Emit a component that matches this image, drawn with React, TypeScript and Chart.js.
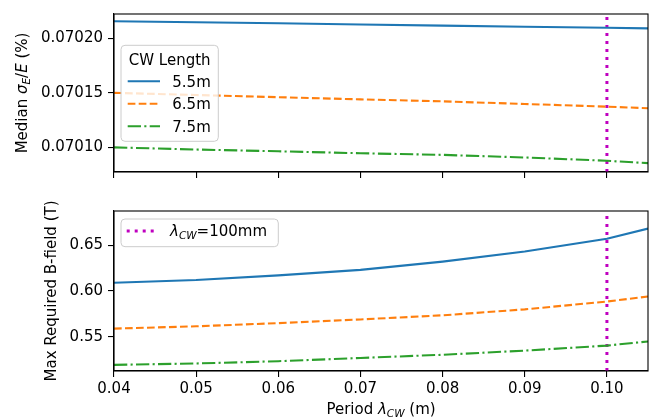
import React, { useEffect, useRef } from "react";
import { Chart, registerables } from "chart.js";
Chart.register(...registerables);

// ---- data ----
const periods = [0.04, 0.05, 0.06, 0.07, 0.08, 0.09, 0.1, 0.105];
const cwLengths = ["5.5m", "6.5m", "7.5m"];
const sigma55 = [0.0702157, 0.0702148, 0.0702138, 0.0702127, 0.0702116, 0.0702106, 0.0702097, 0.0702091];
const sigma65 = [0.07015, 0.070148, 0.070146, 0.070144, 0.0701422, 0.0701398, 0.0701373, 0.0701359];
const sigma75 = [0.0701, 0.070098, 0.0700964, 0.0700946, 0.0700931, 0.0700907, 0.0700877, 0.0700855];
const bfield55 = [0.609, 0.612, 0.617, 0.623, 0.632, 0.643, 0.657, 0.668];
const bfield65 = [0.559, 0.5615, 0.565, 0.569, 0.5735, 0.58, 0.5885, 0.594];
const bfield75 = [0.5195, 0.521, 0.5235, 0.527, 0.5305, 0.535, 0.5405, 0.545];
const markerPeriod = 0.1;
const xTicks = [0.04, 0.05, 0.06, 0.07, 0.08, 0.09, 0.1];
const sigmaTicks = [0.0701, 0.07015, 0.0702];
const bfieldTicks = [0.55, 0.6, 0.65];
const xRange = [0.04, 0.105];
const sigmaRange = [0.0700774, 0.0702223];
const bfieldRange = [0.5128, 0.6872];

const colors = ["#1f77b4", "#ff7f0e", "#2ca02c"];
const dashes = [[], [7.7, 3.3], [13.3, 3.3, 2.1, 3.3]];
const MAGENTA = "#bf00bf";
const FONT = "'DejaVu Sans'";
const FS = 15;

type Seg = { t: string; it?: boolean; sub?: boolean };

function segFont(s: Seg, size: number) {
  const sz = s.sub ? size * 0.7 : size;
  return `${s.it ? "italic " : ""}${sz}px ${FONT}`;
}
function drawRich(ctx: CanvasRenderingContext2D, segs: Seg[], x: number, y: number, size: number, align: string) {
  let w = 0;
  for (const s of segs) {
    ctx.font = segFont(s, size);
    w += ctx.measureText(s.t).width;
  }
  let cx = align === "center" ? x - w / 2 : x;
  ctx.textAlign = "left";
  ctx.textBaseline = "alphabetic";
  for (const s of segs) {
    ctx.font = segFont(s, size);
    ctx.fillText(s.t, cx, s.sub ? y + size * 0.2 : y);
    cx += ctx.measureText(s.t).width;
  }
}

const decorPlugin = {
  id: "decor",
  afterDatasetsDraw(chart: any, _args: any, opts: any) {
    const { ctx, chartArea: ca } = chart;
    ctx.save();
    ctx.strokeStyle = "#000";
    ctx.lineWidth = 1.1;
    ctx.setLineDash([]);
    ctx.strokeRect(ca.left, ca.top, ca.right - ca.left, ca.bottom - ca.top);
    ctx.fillStyle = "#000";
    ctx.save();
    ctx.translate(opts.yTitleX, (ca.top + ca.bottom) / 2);
    ctx.rotate(-Math.PI / 2);
    drawRich(ctx, opts.yTitle, 0, 5, FS, "center");
    ctx.restore();
    if (opts.xTitle) drawRich(ctx, opts.xTitle, (ca.left + ca.right) / 2, opts.xTitleY, FS, "center");
    const lg = opts.legend;
    if (lg) {
      const x = ca.left + lg.dx;
      const y = ca.top + lg.dy;
      ctx.beginPath();
      ctx.roundRect(x, y, lg.w, lg.h, 4);
      ctx.fillStyle = "rgba(255,255,255,0.8)";
      ctx.fill();
      ctx.strokeStyle = "#cccccc";
      ctx.lineWidth = 1;
      ctx.stroke();
      ctx.fillStyle = "#000";
      if (lg.title) {
        ctx.font = `${FS}px ${FONT}`;
        ctx.textAlign = "center";
        ctx.textBaseline = "alphabetic";
        ctx.fillText(lg.title, x + lg.w / 2, y + lg.titleY);
      }
      lg.items.forEach((idx: number, i: number) => {
        const ds = chart.data.datasets[idx];
        const ly = y + lg.rowY[i];
        ctx.beginPath();
        ctx.strokeStyle = ds.borderColor;
        ctx.lineWidth = ds.borderWidth;
        ctx.setLineDash(ds.borderDash || []);
        ctx.moveTo(x + lg.sx1, ly);
        ctx.lineTo(x + lg.sx2, ly);
        ctx.stroke();
        ctx.setLineDash([]);
        ctx.fillStyle = "#000";
        drawRich(ctx, lg.labels[i], x + lg.tx, ly + lg.baseOff, FS, "left");
      });
    }
    ctx.restore();
  },
};

function lineDs(label: string, ys: number[], i: number) {
  return {
    label,
    data: periods.map((p, k) => ({ x: p, y: ys[k] })),
    borderColor: colors[i],
    backgroundColor: colors[i],
    borderWidth: 2.1,
    borderDash: dashes[i],
    pointRadius: 0,
    tension: 0,
    fill: false,
    clip: 0,
  };
}
function markerDs(range: number[]) {
  return {
    label: "marker",
    data: [
      { x: markerPeriod, y: range[0] },
      { x: markerPeriod, y: range[1] },
    ],
    borderColor: MAGENTA,
    backgroundColor: MAGENTA,
    borderWidth: 3,
    borderDash: [3, 5],
    pointRadius: 0,
    fill: false,
    clip: 0,
  };
}

function makeOptions(cfg: any) {
  const tickFont = { family: FONT, size: FS };
  return {
    responsive: false,
    animation: false,
    layout: { padding: { left: 0, right: 4, top: cfg.padTop, bottom: 0 } },
    plugins: {
      legend: { display: false },
      tooltip: { enabled: false },
      decor: cfg.decor,
    },
    scales: {
      x: {
        type: "linear",
        min: xRange[0],
        max: xRange[1],
        afterBuildTicks: (s: any) => {
          s.ticks = xTicks.map((v) => ({ value: v }));
        },
        afterFit: (s: any) => {
          s.height = cfg.xHeight;
        },
        grid: { drawOnChartArea: false, drawTicks: true, tickLength: 6, color: "#000", lineWidth: 1.1 },
        border: { display: true, color: "#000", width: 1.1 },
        ticks: {
          display: cfg.xLabels,
          font: tickFont,
          color: "#000",
          padding: 3,
          maxRotation: 0,
          autoSkip: false,
          callback: (v: any) => Number(v).toFixed(2),
        },
      },
      y: {
        type: "linear",
        min: cfg.yRange[0],
        max: cfg.yRange[1],
        afterBuildTicks: (s: any) => {
          s.ticks = cfg.yTicks.map((v: number) => ({ value: v }));
        },
        afterFit: (s: any) => {
          s.width = 114;
        },
        grid: { drawOnChartArea: false, drawTicks: true, tickLength: 6, color: "#000", lineWidth: 1.1 },
        border: { display: true, color: "#000", width: 1.1 },
        ticks: {
          font: tickFont,
          color: "#000",
          padding: 5,
          autoSkip: false,
          callback: (v: any) => Number(v).toFixed(cfg.yDigits),
        },
      },
    },
  };
}

export default function App() {
  const topRef = useRef<HTMLCanvasElement | null>(null);
  const botRef = useRef<HTMLCanvasElement | null>(null);

  useEffect(() => {
    const top = new Chart(topRef.current as HTMLCanvasElement, {
      type: "line",
      data: {
        datasets: [
          lineDs(cwLengths[0], sigma55, 0),
          lineDs(cwLengths[1], sigma65, 1),
          lineDs(cwLengths[2], sigma75, 2),
          markerDs(sigmaRange),
        ],
      },
      options: makeOptions({
        padTop: 12,
        xHeight: 18,
        xLabels: false,
        yRange: sigmaRange,
        yTicks: sigmaTicks,
        yDigits: 5,
        decor: {
          yTitleX: 22,
          yTitle: [{ t: "Median " }, { t: "σ", it: true }, { t: "E", it: true, sub: true }, { t: "/" }, { t: "E", it: true }, { t: " (%)" }],
          legend: {
            dx: 7,
            dy: 31.3,
            w: 97.3,
            h: 96,
            title: "CW Length",
            titleY: 19.4,
            items: [0, 1, 2],
            rowY: [36, 58.4, 81],
            sx1: 6.7,
            sx2: 39,
            tx: 51.3,
            baseOff: 5.6,
            labels: cwLengths.map((c) => [{ t: c }]),
          },
        },
      }) as any,
      plugins: [decorPlugin],
    });
    const bot = new Chart(botRef.current as HTMLCanvasElement, {
      type: "line",
      data: {
        datasets: [
          lineDs(cwLengths[0], bfield55, 0),
          lineDs(cwLengths[1], bfield65, 1),
          lineDs(cwLengths[2], bfield75, 2),
          markerDs(bfieldRange),
        ],
      },
      options: makeOptions({
        padTop: 21,
        xHeight: 49,
        xLabels: true,
        yRange: bfieldRange,
        yTicks: bfieldTicks,
        yDigits: 2,
        decor: {
          yTitleX: 51,
          yTitle: [{ t: "Max Required B-field (T)" }],
          xTitle: [{ t: "Period " }, { t: "λ", it: true }, { t: "CW", it: true, sub: true }, { t: " (m)" }],
          xTitleY: 224,
          legend: {
            dx: 7,
            dy: 8,
            w: 157.3,
            h: 27.7,
            items: [3],
            rowY: [12],
            sx1: 5.7,
            sx2: 34.7,
            tx: 49,
            baseOff: 4.7,
            labels: [[{ t: "λ", it: true }, { t: "CW", it: true, sub: true }, { t: "=100mm" }]],
          },
        },
      }) as any,
      plugins: [decorPlugin],
    });
    return () => {
      top.destroy();
      bot.destroy();
    };
  }, []);

  return (
    <div style={{ position: "absolute", left: 0, top: 0, width: 652, height: 420, background: "#fff" }}>
      <canvas ref={topRef} width={652} height={190} style={{ position: "absolute", left: 0, top: 0, width: 652, height: 190 }} />
      <canvas ref={botRef} width={652} height={230} style={{ position: "absolute", left: 0, top: 190, width: 652, height: 230 }} />
    </div>
  );
}
